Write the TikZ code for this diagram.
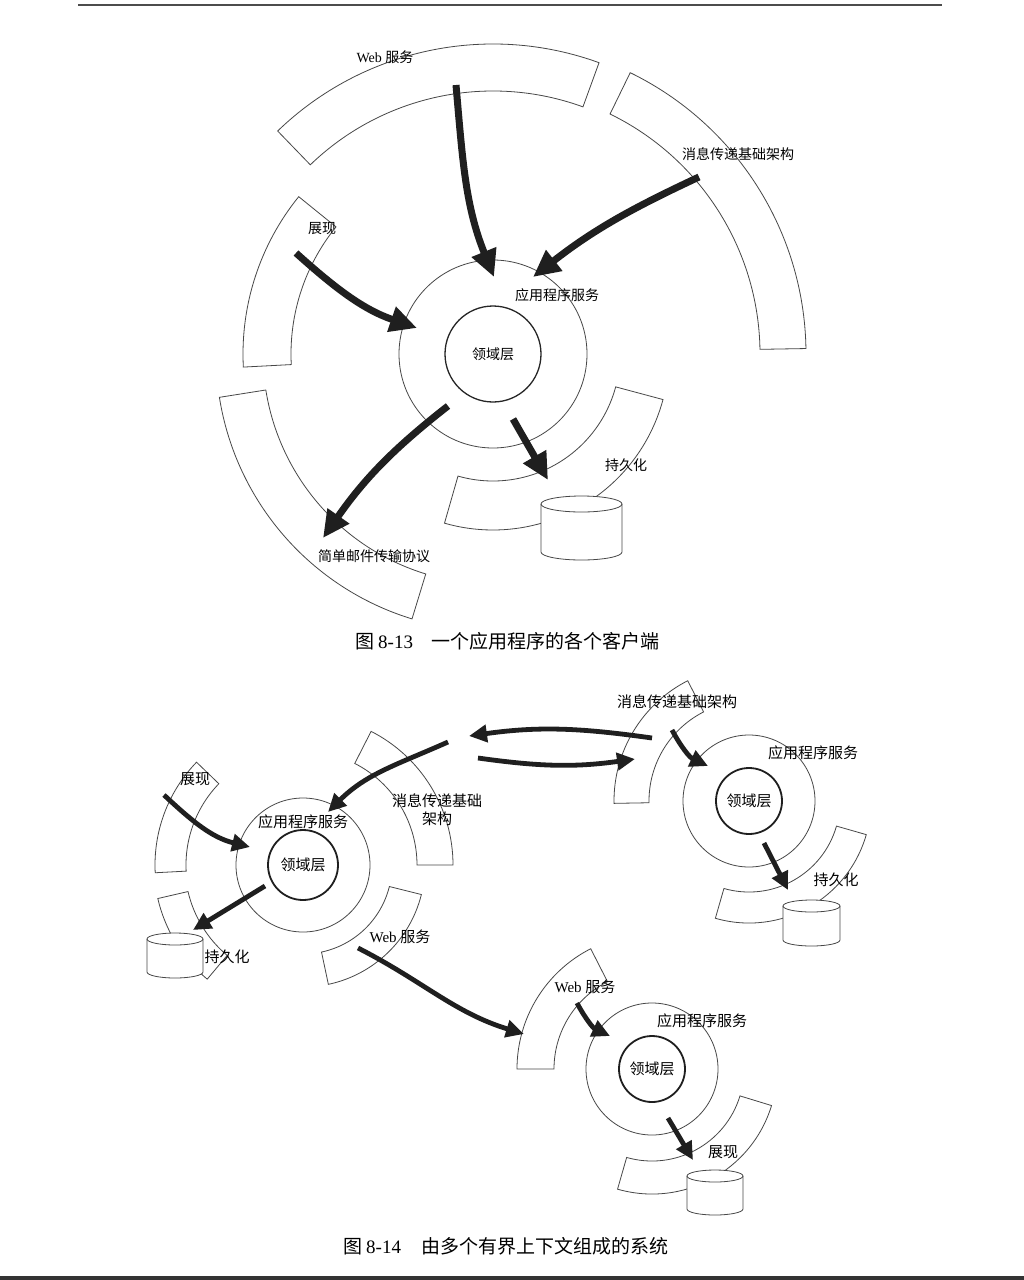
\documentclass[tikz,border=0pt]{standalone}
\usepackage{fontspec}
\setmainfont{Liberation Serif}
\newfontfamily\cjk{Noto Sans CJK SC}
\usetikzlibrary{arrows.meta,calc}
\newcommand{\zh}[1]{{\cjk #1}}
\tikzset{
  ring/.style={draw=black!72, line width=0.8pt},
  appc/.style={circle, draw=black!72, line width=0.8pt, inner sep=0pt},
  corec/.style={circle, draw=black!85, line width=1.3pt, inner sep=0pt},
  corecB/.style={circle, draw=black!88, line width=1.8pt, inner sep=0pt},
  bigarrow/.style={line width=7pt, draw=black!88, -{Triangle[length=27pt,width=25pt]}},
  midarrow/.style={line width=4.8pt, draw=black!88, -{Triangle[length=18pt,width=17pt]}},
  lblA/.style={inner sep=0pt, font=\fontsize{14}{16}\selectfont},
  lblB/.style={inner sep=0pt, font=\fontsize{15}{18}\selectfont},
  capt/.style={inner sep=0pt, anchor=west, font=\fontsize{19}{21}\selectfont},
}
% annular sector: center, r1, r2, start angle, end angle
\newcommand{\sect}[5]{\draw[ring] ($(#1)+(#4:#2pt)$) arc[start angle=#4,end angle=#5,radius=#2pt] -- ($(#1)+(#5:#3pt)$) arc[start angle=#5,end angle=#4,radius=#3pt] -- cycle;}
% cylinder: cx, top y, bottom y, rx, ry
\newcommand{\cyl}[5]{%
  \filldraw[ring, fill=white] (#1-#4,#2) -- (#1-#4,#3) arc[start angle=180,end angle=360,x radius=#4pt,y radius=#5pt] -- (#1+#4,#2) arc[start angle=0,end angle=180,x radius=#4pt,y radius=#5pt] -- cycle;
  \draw[ring] (#1-#4,#2) arc[start angle=180,end angle=360,x radius=#4pt,y radius=#5pt];}
\begin{document}
\begin{tikzpicture}[x=1pt,y=1pt]
\useasboundingbox (0,0) rectangle (1024,-1280);
\fill[white] (0,0) rectangle (1024,-1280);
% rules
\draw[line width=2pt, black!70] (78,-5) -- (942,-5);
\fill[black!80] (0,-1276) rectangle (1024,-1280);

% ================= Figure 8-13 =================
\coordinate (c1) at (493,-354);
\sect{c1}{263}{310}{70}{134}
\sect{c1}{267}{313}{1}{64}
\sect{c1}{202}{250}{141}{183}
\sect{c1}{230}{277}{189}{253}
\sect{c1}{127}{176}{-106}{-15}
\cyl{581.5}{-504}{-552}{40.5}{8}
\node[appc, minimum size=188pt] (app1) at (c1) {};
\node[corec, minimum size=96pt, font=\fontsize{14}{16}\selectfont] (dom1) at (c1) {\zh{领域层}};

\node[lblA] (l1web) at (385,-57) {Web \zh{服务}};
\node[lblA] (l1msg) at (738,-154) {\zh{消息传递基础架构}};
\node[lblA] (l1pre) at (322,-229) {\zh{展现}};
\node[lblA] (l1app) at (557,-295) {\zh{应用程序服务}};
\node[lblA] (l1per) at (626,-465) {\zh{持久化}};
\node[lblA] (l1smtp) at (374,-556) {\zh{简单邮件传输协议}};

\coordinate (w1s) at (456,-85);  \coordinate (w1e) at (494,-277);
\coordinate (m1s) at (699,-177); \coordinate (m1e) at (533,-277);
\coordinate (p1s) at (296,-253); \coordinate (p1e) at (417,-328);
\coordinate (s1s) at (448,-406); \coordinate (s1e) at (323,-538);
\coordinate (d1s) at (513,-419); \coordinate (d1e) at (548,-480);
\draw[bigarrow] (w1s) to[out=-85,in=112] (w1e);
\draw[bigarrow] (m1s) to[out=205,in=38] (m1e);
\draw[bigarrow] (p1s) to[out=-42,in=161] (p1e);
\draw[bigarrow] (s1s) to[out=218,in=55] (s1e);
\draw[bigarrow] (d1s) -- (d1e);

\node[capt] (cap1) at (355,-641) {\zh{图}\hspace{4pt}8-13\hspace{18pt}\zh{一个应用程序的各个客户端}};

% ================= Figure 8-14 =================
% context A
\coordinate (cA) at (303,-865);
\sect{cA}{117}{148}{136}{183}
\sect{cA}{118}{149}{193}{230}
\sect{cA}{114}{150}{0}{63}
\sect{cA}{89}{122}{-78}{-14}
\cyl{175}{-939}{-972}{28}{6}
\node[appc, minimum size=134pt] (appA) at (cA) {};
\node[corecB, minimum size=70pt, font=\fontsize{15}{18}\selectfont] (domA) at (cA) {\zh{领域层}};
\node[lblB] (lApre) at (195,-779) {\zh{展现}};
\node[lblB] (lAapp) at (303,-822) {\zh{应用程序服务}};
\node[lblB, align=center] (lAmsg) at (437,-810) {\zh{消息传递基础}\\\zh{架构}};
\node[lblB] (lAweb) at (400,-937) {Web \zh{服务}};
\node[lblB] (lAper) at (227,-957) {\zh{持久化}};

% context B
\coordinate (cB) at (749,-801);
\sect{cB}{100}{135}{117}{181}
\sect{cB}{91}{122}{-106}{-16}
\cyl{811.5}{-906}{-940}{28.5}{6}
\node[appc, minimum size=132pt] (appB) at (cB) {};
\node[corecB, minimum size=66pt, font=\fontsize{15}{18}\selectfont] (domB) at (cB) {\zh{领域层}};
\node[lblB] (lBmsg) at (677,-702) {\zh{消息传递基础架构}};
\node[lblB] (lBapp) at (813,-753) {\zh{应用程序服务}};
\node[lblB] (lBper) at (836,-880) {\zh{持久化}};

% context C
\coordinate (cC) at (652,-1069);
\sect{cC}{98}{135}{117}{180}
\sect{cC}{92}{125}{-106}{-17}
\cyl{715}{-1176}{-1209}{28}{6}
\node[appc, minimum size=132pt] (appC) at (cC) {};
\node[corecB, minimum size=66pt, font=\fontsize{15}{18}\selectfont] (domC) at (cC) {\zh{领域层}};
\node[lblB] (lCweb) at (585,-987) {Web \zh{服务}};
\node[lblB] (lCapp) at (702,-1021) {\zh{应用程序服务}};
\node[lblB] (lCpre) at (723,-1152) {\zh{展现}};

% arrows of 8-14
\coordinate (aPs) at (164,-795);  \coordinate (aPe) at (250,-847);
\coordinate (aDs) at (265,-886);  \coordinate (aDe) at (193,-930);
\coordinate (aMs) at (448,-742);  \coordinate (aMe) at (328,-812);
\coordinate (aWs) at (358,-948);  \coordinate (aWe) at (524,-1034);
\coordinate (xTs) at (652,-738);  \coordinate (xTe) at (469,-736);
\coordinate (xBs) at (478,-758);  \coordinate (xBe) at (635,-759);
\coordinate (bMs) at (672,-730);  \coordinate (bMe) at (708,-766);
\coordinate (bDs) at (764,-843);  \coordinate (bDe) at (788,-890);
\coordinate (cWs) at (577,-1003); \coordinate (cWe) at (610,-1036);
\coordinate (cDs) at (668,-1118); \coordinate (cDe) at (693,-1160);
\draw[midarrow] (aPs) to[out=-43,in=166] (aPe);
\draw[midarrow] (aDs) -- (aDe);
\draw[midarrow] (aMs) to[out=204,in=45] (aMe);
\draw[midarrow] (aWs) to[out=-27,in=163] (aWe);
\draw[midarrow] (xTs) to[out=172,in=8] (xTe);
\draw[midarrow] (xBs) to[out=-8,in=188] (xBe);
\draw[midarrow] (bMs) to[out=-62,in=155] (bMe);
\draw[midarrow] (bDs) -- (bDe);
\draw[midarrow] (cWs) to[out=-62,in=155] (cWe);
\draw[midarrow] (cDs) -- (cDe);

\node[capt] (cap2) at (343,-1246) {\zh{图}\hspace{4pt}8-14\hspace{20pt}\zh{由多个有界上下文组成的系统}};
\end{tikzpicture}
\end{document}
